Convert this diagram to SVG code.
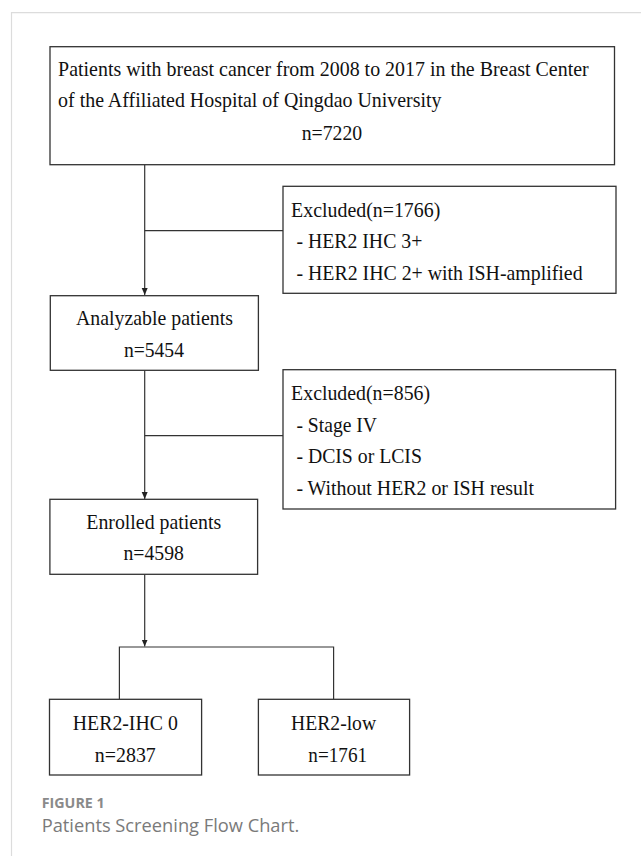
<svg xmlns="http://www.w3.org/2000/svg" width="641" height="856" viewBox="0 0 641 856">
<defs>
<marker id="arr" markerWidth="7" markerHeight="7" refX="7" refY="3.5" orient="auto" markerUnits="userSpaceOnUse">
<path d="M0,0.5 L7,3.5 L0,6.5 z" fill="#222"/>
</marker>
<style>
.box{fill:#fff;stroke:#333;stroke-width:1.3}
.t{font-family:"Liberation Serif","Times New Roman",serif;font-size:22px;fill:#111}
.ln{fill:none;stroke:#333;stroke-width:1.2}
.cap1{font-family:"Open Sans","Noto Sans",sans-serif;font-size:14.5px;font-weight:bold;fill:#8a8a8a}
.cap2{font-family:"Open Sans","Noto Sans",sans-serif;font-size:17.5px;fill:#7a7a7a}
</style>
</defs>
<rect width="641" height="856" fill="#fff"/>
<path d="M11.5,856 V12.7 H641" fill="none" stroke="#dcdcdc" stroke-width="1.2"/>

<g id="connectors">
<path class="ln" d="M144.7,164.7 V295" marker-end="url(#arr)"/>
<path class="ln" d="M144.7,230.7 H283"/>
<path class="ln" d="M144.7,370.3 V499" marker-end="url(#arr)"/>
<path class="ln" d="M144.7,435.7 H283"/>
<path class="ln" d="M144.7,574.3 V646.5" marker-end="url(#arr)"/>
<path class="ln" d="M119.4,699.3 V647 H333.6 V699.3"/>
</g>

<g id="n-all">
<rect class="box" x="50" y="46.7" width="564.5" height="118"/>
<text class="t" x="58.1" y="76" style="font-size:21px" textLength="530.6" lengthAdjust="spacingAndGlyphs">Patients with breast cancer from 2008 to 2017 in the Breast Center</text>
<text class="t" x="58.1" y="107.3" textLength="383.4" lengthAdjust="spacingAndGlyphs">of the Affiliated Hospital of Qingdao University</text>
<text class="t" x="301.7" y="140" textLength="60.5" lengthAdjust="spacingAndGlyphs">n=7220</text>
</g>

<g id="n-excl1">
<rect class="box" x="283" y="186.3" width="333" height="107"/>
<text class="t" x="291.1" y="216.7" textLength="149.2" lengthAdjust="spacingAndGlyphs">Excluded(n=1766)</text>
<text class="t" x="296.4" y="248.3" textLength="125.9" lengthAdjust="spacingAndGlyphs">- HER2 IHC 3+</text>
<text class="t" x="296.4" y="280" textLength="286.2" lengthAdjust="spacingAndGlyphs">- HER2 IHC 2+ with ISH-amplified</text>
</g>

<g id="n-analyzable">
<rect class="box" x="50.3" y="295.7" width="208.1" height="74.6"/>
<text class="t" x="76" y="325.3" textLength="157" lengthAdjust="spacingAndGlyphs">Analyzable patients</text>
<text class="t" x="123.9" y="356.7" textLength="60.1" lengthAdjust="spacingAndGlyphs">n=5454</text>
</g>

<g id="n-excl2">
<rect class="box" x="283" y="369.7" width="332.6" height="139.3"/>
<text class="t" x="291.1" y="400" textLength="139" lengthAdjust="spacingAndGlyphs">Excluded(n=856)</text>
<text class="t" x="296.4" y="431.7" textLength="80.6" lengthAdjust="spacingAndGlyphs">- Stage IV</text>
<text class="t" x="296.4" y="463.3" textLength="125.5" lengthAdjust="spacingAndGlyphs">- DCIS or LCIS</text>
<text class="t" x="296.4" y="495" textLength="237.6" lengthAdjust="spacingAndGlyphs">- Without HER2 or ISH result</text>
</g>

<g id="n-enrolled">
<rect class="box" x="49.9" y="499.3" width="207.7" height="75"/>
<text class="t" x="86.3" y="529" textLength="134.9" lengthAdjust="spacingAndGlyphs">Enrolled patients</text>
<text class="t" x="123.5" y="560" textLength="60.5" lengthAdjust="spacingAndGlyphs">n=4598</text>
</g>

<g id="n-ihc0">
<rect class="box" x="49.5" y="699.3" width="152.1" height="75.7"/>
<text class="t" x="72.8" y="730" textLength="105" lengthAdjust="spacingAndGlyphs">HER2-IHC 0</text>
<text class="t" x="94.8" y="761.7" textLength="61" lengthAdjust="spacingAndGlyphs">n=2837</text>
</g>

<g id="n-low">
<rect class="box" x="258.4" y="699.3" width="151.2" height="75.7"/>
<text class="t" x="291.1" y="730" textLength="85" lengthAdjust="spacingAndGlyphs">HER2-low</text>
<text class="t" x="308.3" y="761.7" textLength="58.8" lengthAdjust="spacingAndGlyphs">n=1761</text>
</g>

<text class="cap1" x="41.7" y="807.7" textLength="63" lengthAdjust="spacingAndGlyphs">FIGURE 1</text>
<text class="cap2" x="41.7" y="831.7" textLength="257.6" lengthAdjust="spacingAndGlyphs">Patients Screening Flow Chart.</text>
</svg>
